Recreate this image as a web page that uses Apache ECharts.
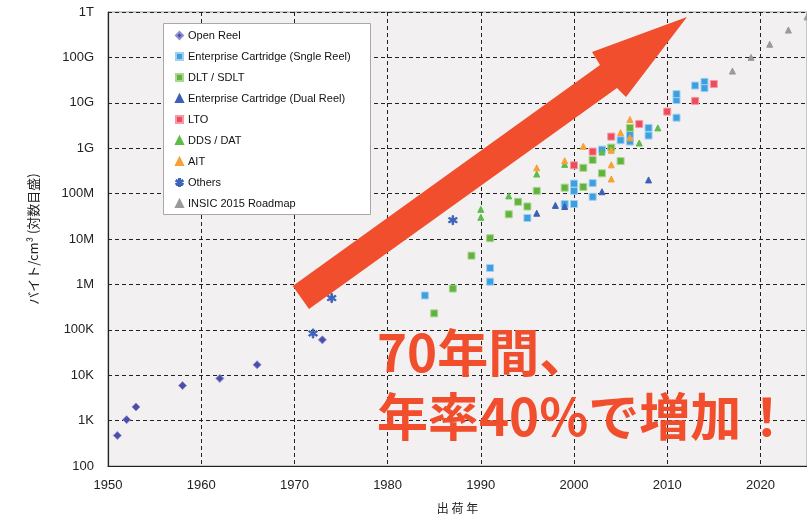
<!DOCTYPE html>
<html><head><meta charset="utf-8">
<script src="https://cdn.jsdelivr.net/npm/echarts@6/dist/echarts.min.js"></script>
<style>html,body{margin:0;padding:0;background:#fff}#c{width:807px;height:519px}</style>
</head><body><div id="c"></div>
<script>
// ---- data (year, bytes/cm3) ----
const yTickLabels = ['100','1K','10K','100K','1M','10M','100M','1G','10G','100G','1T'];
const xTickLabels = ['1950','1960','1970','1980','1990','2000','2010','2020'];
const seriesNames = ['Open Reel','Enterprise Cartridge (Sngle Reel)','DLT / SDLT','Enterprise Cartridge (Dual Reel)','LTO','DDS / DAT','AIT','Others','INSIC 2015 Roadmap'];
const openReel = [[1951,470],[1952,1050],[1953,2000],[1958,5900],[1962,8500],[1966,17000],[1973,60000]];
const entSingle = [[1984,5.7e5],[1991,2.3e6],[1991,1.15e6],[1995,2.9e7],[1999,5.9e7],[2000,5.9e7],[2000,1.15e8],[2000,1.66e8],[2002,8.5e7],[2002,1.7e8],[2003,9.3e8],[2005,1.5e9],[2006,1.4e9],[2006,2e9],[2008,2.8e9],[2008,1.9e9],[2011,4.7e9],[2011,1.15e10],[2011,1.55e10],[2013,2.4e10],[2014,2.9e10],[2014,2.1e10]];
const dltSdlt = [[1985,2.3e5],[1987,8.1e5],[1989,4.3e6],[1991,1.04e7],[1993,3.5e7],[1994,6.6e7],[1995,5.2e7],[1996,1.15e8],[1999,1.35e8],[2001,3.7e8],[2001,1.4e8],[2002,5.5e8],[2003,2.8e8],[2004,1.03e9],[2005,5.2e8],[2006,2.8e9]];
const entDual = [[1996,3.7e7],[1998,5.5e7],[1999,5.2e7],[2003,1.1e8],[2008,2e8]];
const lto = [[2000,4.2e8],[2002,8.4e8],[2004,1.8e9],[2007,3.4e9],[2010,6.4e9],[2013,1.1e10],[2015,2.6e10]];
const ddsDat = [[1990,4.5e7],[1990,3e7],[1993,8.9e7],[1996,2.7e8],[1999,4.4e8],[2003,8.2e8],[2007,1.3e9],[2009,2.8e9]];
const ait = [[1996,3.7e8],[1999,5.3e8],[2001,1.1e9],[2004,9e8],[2004,4.3e8],[2004,2.1e8],[2005,2.2e9],[2006,1.7e9],[2006,4.3e9]];
const others = [[1972,8.3e4],[1974,5e5],[1987,2.6e7]];
const insic = [[2017,5e10],[2019,1e11],[2021,1.95e11],[2023,4e11],[2025,7.8e11]];

const asterisk = 'path://M4.2,0L5.8,0L5.8,10L4.2,10Z M0.27,3.19L1.07,1.81L9.73,6.81L8.93,8.19Z M8.93,1.81L9.73,3.19L1.07,8.19L0.27,6.81Z';

const styles = [
  {data: openReel, symbol:'diamond', size:8, color:'#4b4ea8', border:'#8c8fd0'},
  {data: entSingle, symbol:'rect', size:7, color:'#3d9fe0', border:'#9fd0f2'},
  {data: dltSdlt, symbol:'rect', size:7, color:'#64b23e', border:'#a8d88e'},
  {data: entDual, symbol:'triangle', size:6, color:'#3b5fb8', border:'#3b5fb8'},
  {data: lto, symbol:'rect', size:7, color:'#ee4b5c', border:'#f59aa4'},
  {data: ddsDat, symbol:'triangle', size:6, color:'#5cbd4a', border:'#5cbd4a'},
  {data: ait, symbol:'triangle', size:6, color:'#f7a136', border:'#f7a136'},
  {data: others, symbol:asterisk, size:9, color:'#3e63ba', border:'#3e63ba'},
  {data: insic, symbol:'triangle', size:6, color:'#9a9a9a', border:'#9a9a9a'}
];

const chart = echarts.init(document.getElementById('c'));
const series = styles.map((s,i)=>({
  name: seriesNames[i], type:'scatter', data:s.data, symbol:s.symbol, symbolSize:s.size,
  itemStyle:{color:s.color, borderColor:s.border, borderWidth:1, opacity:1},
  z: 3
}));

chart.setOption({
  animation:false,
  backgroundColor:'#ffffff',
  grid:{left:108, right:0, top:12, bottom:53, show:true, backgroundColor:'#f2f0f1', borderColor:'#9a9a9a', borderWidth:1},
  xAxis:{type:'value', min:1950, max:2025, interval:10,
    name:'出 荷 年', nameLocation:'middle', nameGap:36,
    nameTextStyle:{fontFamily:'"Noto Sans CJK JP"', fontSize:12, color:'#222'},
    axisLine:{show:true, lineStyle:{color:'#222', width:1.2}},
    axisTick:{show:false},
    axisLabel:{margin:13, fontFamily:'"Liberation Sans", Arial', fontSize:13, color:'#222', showMaxLabel:false,
      formatter:v=>{const i=Math.round((v-1950)/10); return (Math.abs(v-1950-i*10)<0.01 && xTickLabels[i]) ? xTickLabels[i] : '';}},
    splitLine:{show:true, lineStyle:{color:'#222', type:[4,3], width:1}}
  },
  yAxis:{type:'log', logBase:10, min:100, max:1e12,
    name:'バイト/cm³ (対数目盛)', nameLocation:'middle', nameGap:68, nameRotate:90,
    nameTextStyle:{fontFamily:'"Noto Sans CJK JP"', fontSize:13, color:'#222'},
    axisLine:{show:true, lineStyle:{color:'#222', width:1.2}},
    axisTick:{show:false},
    axisLabel:{margin:14, fontFamily:'"Liberation Sans", Arial', fontSize:13, color:'#222',
      formatter:v=>yTickLabels[Math.round(Math.log10(v))-2]},
    splitLine:{show:true, lineStyle:{color:'#222', type:[4,3], width:1}}
  },
  legend:{orient:'vertical', left:170, top:24, itemWidth:7, itemHeight:7, itemGap:8,
    data:seriesNames, z:6,
    textStyle:{fontFamily:'"Liberation Sans", Arial', fontSize:11, color:'#111', lineHeight:13, padding:[0,0,0,0]}
  },
  graphic:[
    {type:'rect', left:163, top:23, z:5, shape:{width:207, height:191},
     style:{fill:'#ffffff', stroke:'#a8a8a8', lineWidth:1}},
    {type:'polygon', z:10, shape:{points:[[292.7,286],[600,65],[592,52],[687,17],[626,97],[617,88],[309,309]]},
     style:{fill:'#f14e2d'}},
    {type:'text', z:10, left:377, top:327, style:{text:'70年間、', font:'bold 51px "Noto Sans CJK JP"', fill:'#f14e2d'}},
    {type:'text', z:10, left:377, top:391, style:{text:'年率40%で増加！', font:'bold 51px "Noto Sans CJK JP"', fill:'#f14e2d'}}
  ],
  series: series
});
</script></body></html>
